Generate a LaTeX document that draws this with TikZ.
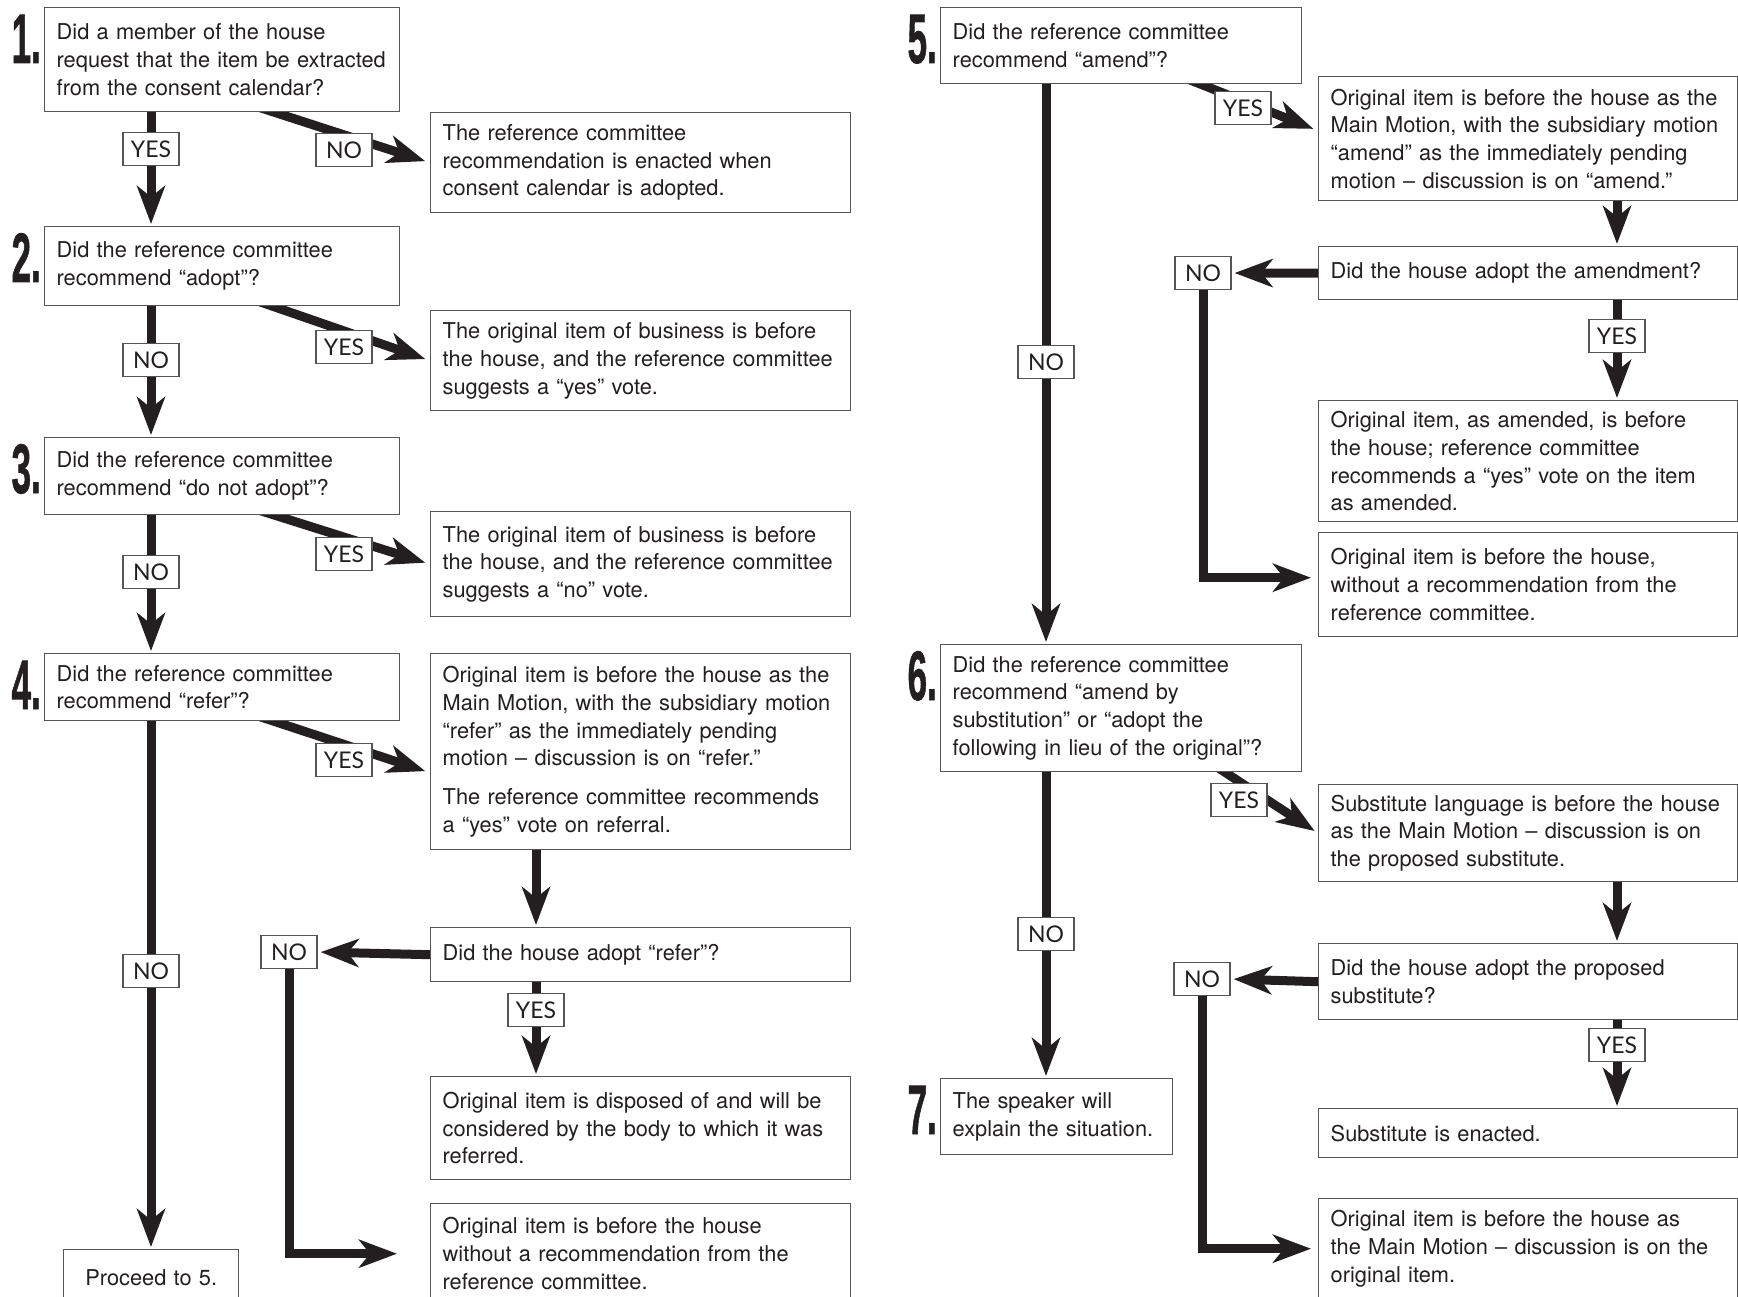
\documentclass[tikz,border=0pt]{standalone}
\usepackage{fontspec}
\usepackage{graphicx}
\setmainfont{TeX Gyre Heros}
\newfontfamily\tagfont{Lato}
\newfontface\numfont{Liberation Sans Bold}[FakeBold=1.2]
\usetikzlibrary{arrows.meta, backgrounds, calc}
\definecolor{ink}{RGB}{35,31,32}
\definecolor{rule}{RGB}{85,85,85}

\begin{document}
\begin{tikzpicture}[x=1pt, y=-1pt,
    box/.style={draw=rule, line width=1.4pt, fill=white, align=left, anchor=north west,
      inner xsep=12pt, inner ysep=0pt, text width=#1, text=ink,
      font=\fontsize{21.8}{27.7}\selectfont},
    box/.default=331pt,
    tag/.style={draw=rule, line width=1.2pt, fill=white, inner sep=0pt,
      minimum width=56pt, minimum height=33pt, text=ink,
      font=\tagfont\fontsize{23}{23}\selectfont},
    num/.style={anchor=base east, inner sep=0pt, text=ink,
      font=\numfont\fontsize{70}{70}\selectfont},
    arr/.style={line width=9pt, draw=ink, shorten >=2pt,
      -{Stealth[length=38pt, width=28pt, inset=11pt]}}]

    \useasboundingbox (0,0) rectangle (1738,1297);

    % Columns for the connectors
    \coordinate (colL) at (151,0);
    \coordinate (colLi) at (536,0);
    \coordinate (diagL) at (250,0);
    \coordinate (colR) at (1046,0);
    \coordinate (colRi) at (1617,0);
    \coordinate (diag5) at (1181,0);
    \coordinate (diag6) at (1213,0);

    % Questions 1-4
    \node[box, minimum height=104pt] (q1) at (44,7)
      {Did a member of the house\\request that the item be extracted\\from the consent calendar?};
    \node[box, minimum height=79pt] (q2) at (44,226)
      {Did the reference committee\\recommend “adopt”?};
    \node[box, minimum height=77pt] (q3) at (44,437)
      {Did the reference committee\\recommend “do not adopt”?};
    \node[box, minimum height=67pt] (q4) at (44,653)
      {Did the reference committee\\recommend “refer”?};
    \node[box=151pt, align=center, minimum height=56pt] (p5) at (63,1249) {Proceed to 5.};

    % Answers 1-4
    \node[box=396pt, minimum height=100pt] (r1) at (430,112)
      {The reference committee\\recommendation is enacted when\\consent calendar is adopted.};
    \node[box=396pt, minimum height=100pt] (r2) at (430,310)
      {The original item of business is before\\the house, and the reference committee\\suggests a “yes” vote.};
    \node[box=396pt, minimum height=105pt] (r3) at (430,511)
      {The original item of business is before\\the house, and the reference committee\\suggests a “no” vote.};
    \node[box=396pt, minimum height=196pt] (r4) at (430,653)
      {Original item is before the house as the\\Main Motion, with the subsidiary motion\\“refer” as the immediately pending\\motion – discussion is on “refer.”\\[11pt]
       The reference committee recommends\\a “yes” vote on referral.};
    \node[box=396pt, minimum height=54pt] (q4b) at (430,927) {Did the house adopt “refer”?};
    \node[box=396pt, minimum height=103pt] (r4c) at (430,1076)
      {Original item is disposed of and will be\\considered by the body to which it was\\referred.};
    \node[box=396pt, minimum height=100pt] (r4d) at (430,1203)
      {Original item is before the house\\without a recommendation from the\\reference committee.};

    % Questions 5-7
    \node[box=337pt, minimum height=76pt] (q5) at (940,7)
      {Did the reference committee\\recommend “amend”?};
    \node[box=337pt, minimum height=127pt] (q6) at (940,644)
      {Did the reference committee\\recommend “amend by\\substitution” or “adopt the\\following in lieu of the original”?};
    \node[box=208pt, minimum height=76pt] (q7) at (940,1078)
      {The speaker will\\explain the situation.};

    % Answers 5-6
    \node[box=395pt, minimum height=124pt] (r5) at (1318,76)
      {Original item is before the house as the\\Main Motion, with the subsidiary motion\\“amend” as the immediately pending\\motion – discussion is on “amend.”};
    \node[box=395pt, minimum height=53pt] (q5b) at (1318,246) {Did the house adopt the amendment?};
    \node[box=395pt, minimum height=121pt] (r5c) at (1318,400)
      {Original item, as amended, is before\\the house; reference committee\\recommends a “yes” vote on the item\\as amended.};
    \node[box=395pt, minimum height=104pt] (r5d) at (1318,532)
      {Original item is before the house,\\without a recommendation from the\\reference committee.};
    \node[box=395pt, minimum height=97pt] (r6) at (1318,784)
      {Substitute language is before the house\\as the Main Motion – discussion is on\\the proposed substitute.};
    \node[box=395pt, minimum height=76pt] (q6b) at (1318,943)
      {Did the house adopt the proposed\\substitute?};
    \node[box=395pt, minimum height=49pt] (r6c) at (1318,1108) {Substitute is enacted.};
    \node[box=395pt, minimum height=100pt] (r6d) at (1318,1198)
      {Original item is before the house as\\the Main Motion – discussion is on the\\original item.};

    % Step numbers
    \node[num] (k1) at ([xshift=-3pt, yshift=-56pt]q1.north west) {\scalebox{0.5}[1]{1.}};
    \node[num] (k2) at ([xshift=-3pt, yshift=-56pt]q2.north west) {\scalebox{0.5}[1]{2.}};
    \node[num] (k3) at ([xshift=-3pt, yshift=-56pt]q3.north west) {\scalebox{0.5}[1]{3.}};
    \node[num] (k4) at ([xshift=-3pt, yshift=-56pt]q4.north west) {\scalebox{0.5}[1]{4.}};
    \node[num] (k5) at ([xshift=-3pt, yshift=-56pt]q5.north west) {\scalebox{0.5}[1]{5.}};
    \node[num] (k6) at ([xshift=-3pt, yshift=-56pt]q6.north west) {\scalebox{0.5}[1]{6.}};
    \node[num] (k7) at ([xshift=-3pt, yshift=-56pt]q7.north west) {\scalebox{0.5}[1]{7.}};

    % YES / NO tags
    \node[tag] (y1) at (151,149) {YES};
    \node[tag] (n1) at (344,150) {NO};
    \node[tag] (n2) at (151,360) {NO};
    \node[tag] (y2) at (344,347) {YES};
    \node[tag] (n3) at (151,572) {NO};
    \node[tag] (y3) at (344,554) {YES};
    \node[tag] (n4) at (151,971) {NO};
    \node[tag] (y4) at (344,760) {YES};
    \node[tag] (n4b) at (289,952) {NO};
    \node[tag] (y4b) at (536,1010) {YES};
    \node[tag] (y5) at (1243,108) {YES};
    \node[tag] (n5) at (1046,362) {NO};
    \node[tag] (n5b) at (1203,273) {NO};
    \node[tag] (y5b) at (1617,336) {YES};
    \node[tag] (y6) at (1239,800) {YES};
    \node[tag] (n6) at (1046,934) {NO};
    \node[tag] (n6b) at (1202,979) {NO};
    \node[tag] (y6b) at (1617,1045) {YES};

    % Connectors
    \begin{scope}[on background layer]
      \fill[white] (0,0) rectangle (1738,1297);

      \draw[arr] (q1.south -| colL) -- (q2.north -| colL);
      \draw[arr] (q2.south -| colL) -- (q3.north -| colL);
      \draw[arr] (q3.south -| colL) -- (q4.north -| colL);
      \draw[arr] (q4.south -| colL) -- (p5.north -| colL);

      \draw[arr, shorten >=5pt] ($(q1.south -| diagL)+(0,-8)$) -- (r1.west);
      \draw[arr, shorten >=5pt] ($(q2.south -| diagL)+(0,-8)$) -- (r2.west);
      \draw[arr, shorten >=5pt] ($(q3.south -| diagL)+(0,-8)$) -- (r3.west);
      \draw[arr, shorten >=5pt] ($(q4.south -| diagL)+(0,-8)$) -- ([yshift=-21pt]r4.west);

      \draw[arr] (r4.south -| colLi) -- (q4b.north -| colLi);
      \draw[arr] (q4b.south -| colLi) -- (r4c.north -| colLi);
      \draw[arr, shorten >=3pt] (q4b.west) -- (n4b.east);
      \draw[arr, shorten >=33pt] (n4b.south) |- (r4d.west);

      \draw[arr] (q5.south -| colR) -- (q6.north -| colR);
      \draw[arr] (q6.south -| colR) -- (q7.north -| colR);
      \draw[arr, shorten >=5pt] ($(q5.south -| diag5)+(0,-8)$) -- ([yshift=8pt]r5.west);
      \draw[arr, shorten >=4pt] ($(q6.south -| diag6)+(0,-8)$) -- (r6.west);

      \draw[arr] (r5.south -| colRi) -- (q5b.north -| colRi);
      \draw[arr] (q5b.south -| colRi) -- (r5c.north -| colRi);
      \draw[arr, shorten >=3pt] (q5b.west) -- (n5b.east);
      \draw[arr, shorten >=7pt] (n5b.south) |- ([yshift=7pt]r5d.west);

      \draw[arr] (r6.south -| colRi) -- (q6b.north -| colRi);
      \draw[arr] (q6b.south -| colRi) -- (r6c.north -| colRi);
      \draw[arr, shorten >=3pt] (q6b.west) -- (n6b.east);
      \draw[arr, shorten >=7pt] (n6b.south) |- (r6d.west);
    \end{scope}

\end{tikzpicture}
\end{document}
